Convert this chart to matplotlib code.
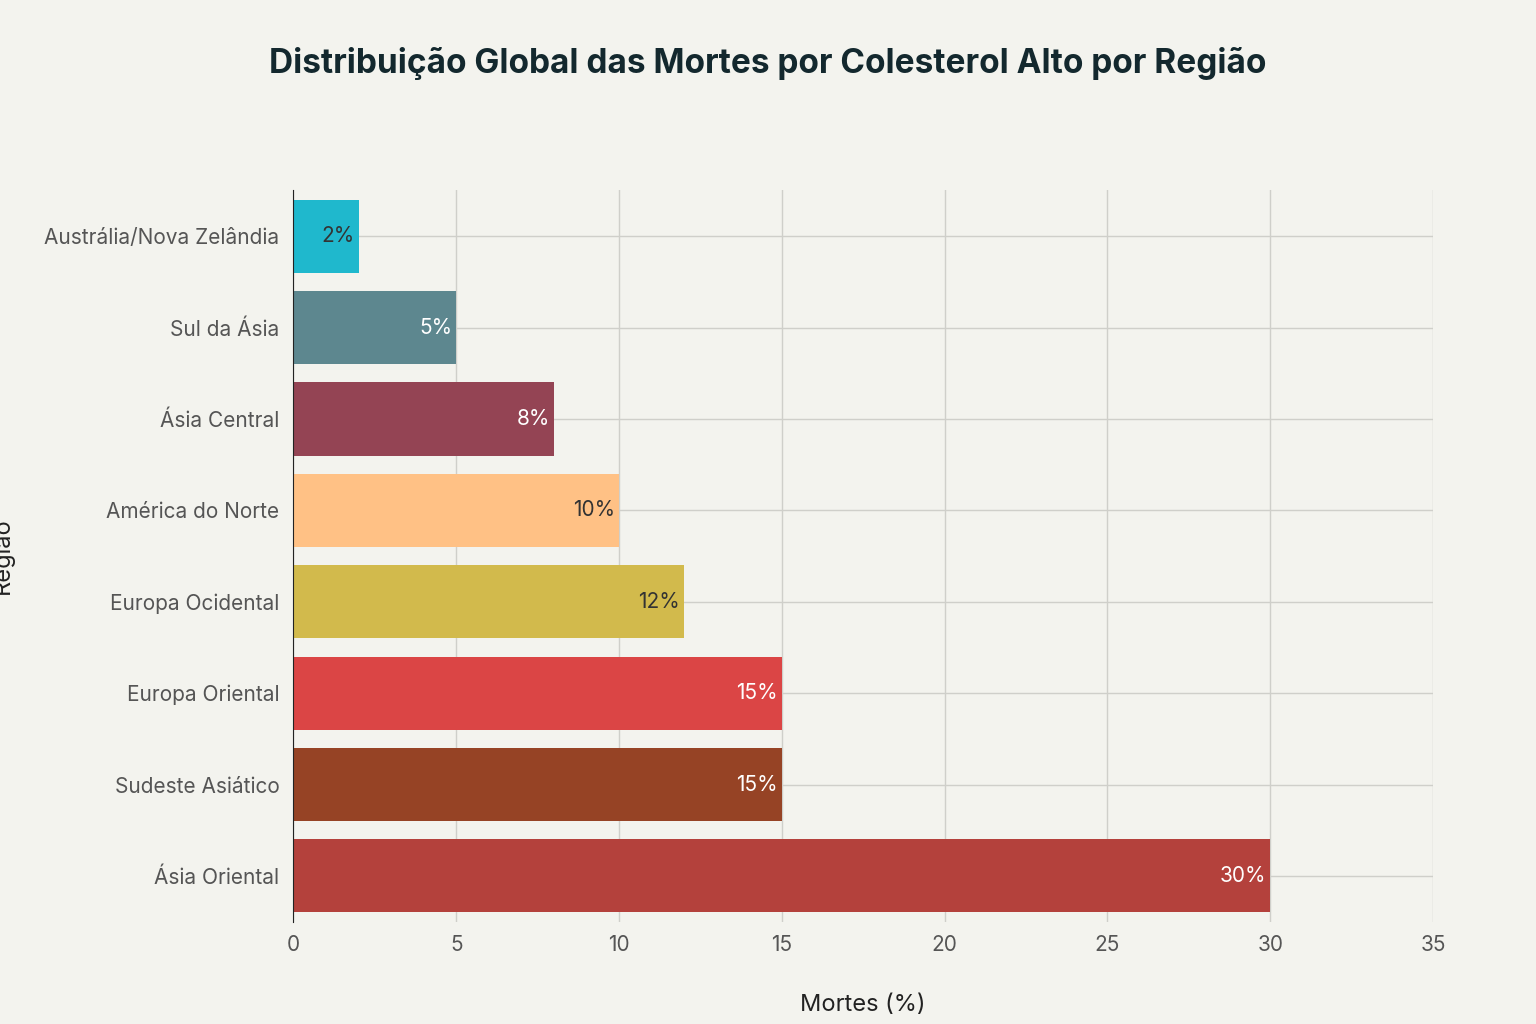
import matplotlib.pyplot as plt

regions = ["Ásia Oriental", "Sudeste Asiático", "Europa Oriental", "Europa Ocidental",
           "América do Norte", "Ásia Central", "Sul da Ásia", "Austrália/Nova Zelândia"]
values = [30, 15, 15, 12, 10, 8, 5, 2]
colors = ["#B4413C", "#964325", "#DB4545", "#D2BA4C", "#FFC185", "#944454", "#5D878F", "#1FB8CD"]
label_colors = ["white", "white", "white", "#333333", "#333333", "white", "white", "#333333"]

plt.rcParams["font.family"] = "Inter"
bg = "#F3F3EE"
fig = plt.figure(figsize=(15.36, 10.24), dpi=100, facecolor=bg)
ax = fig.add_axes([0.191, 0.10, 0.742, 0.714], facecolor=bg)

ax.barh(range(len(regions)), values, height=0.8, color=colors, zorder=2)
for i, v in enumerate(values):
    ax.text(v - 0.12, i, f"{v}%", ha="right", va="center", fontsize=15,
            color=label_colors[i], zorder=3)

ax.set_xlim(0, 35)
ax.set_ylim(-0.5, 7.5)
ax.set_yticks(range(len(regions)))
ax.set_yticklabels(regions)
ax.set_xticks(range(0, 36, 5))
ax.tick_params(axis="both", length=0, labelsize=15, labelcolor="#555555", pad=10)
ax.grid(True, color="#CFCFCA", linewidth=1, zorder=0)
for s in ["top", "right", "bottom"]:
    ax.spines[s].set_visible(False)
ax.spines["left"].set_color("#222222")

ax.set_xlabel("Mortes (%)", fontsize=17, color="#222222", labelpad=28)
ax.set_ylabel("Região", fontsize=17, color="#222222")
ax.yaxis.set_label_coords(-0.245, 0.5)
fig.text(0.5, 0.938, "Distribuição Global das Mortes por Colesterol Alto por Região",
         ha="center", va="center", fontsize=24, fontweight="bold", color="#13282E")

fig.savefig("out.png", dpi=100, facecolor=bg)
